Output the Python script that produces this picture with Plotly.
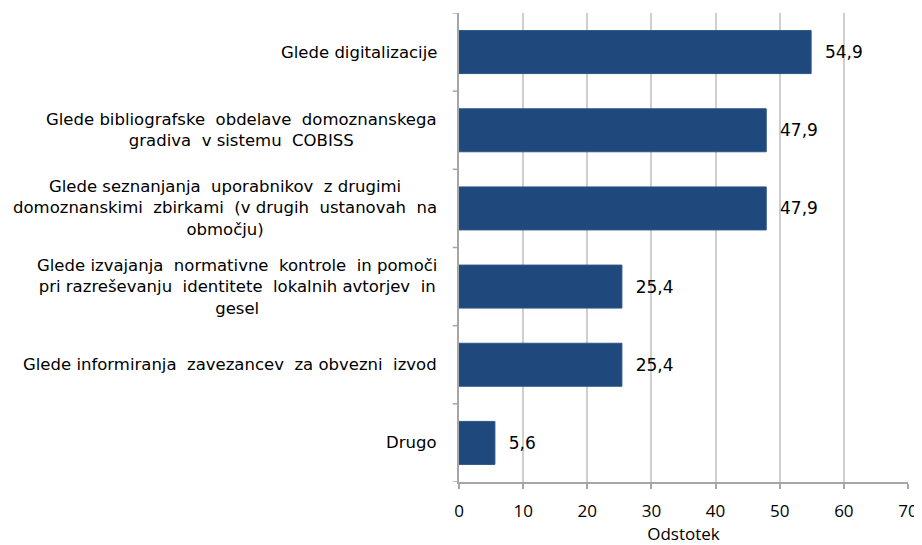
import plotly.graph_objects as go

categories = [
    "Glede digitalizacije",
    "Glede bibliografske  obdelave  domoznanskega<br>gradiva  v sistemu  COBISS",
    "Glede seznanjanja  uporabnikov  z drugimi<br>domoznanskimi  zbirkami  (v drugih  ustanovah  na<br>območju)",
    "Glede izvajanja  normativne  kontrole  in pomoči<br>pri razreševanju  identitete  lokalnih avtorjev  in<br>gesel",
    "Glede informiranja  zavezancev  za obvezni  izvod",
    "Drugo",
]
values = [54.9, 47.9, 47.9, 25.4, 25.4, 5.6]
value_labels = ["54,9", "47,9", "47,9", "25,4", "25,4", "5,6"]
x_ticks = [0, 10, 20, 30, 40, 50, 60, 70]

ids = list(range(len(categories)))

fig = go.Figure()
fig.add_trace(go.Bar(
    y=ids, x=values, orientation="h",
    marker=dict(color="#1F497D", line=dict(color="#2C5689", width=1)),
    width=0.55,
    text=value_labels, texttemplate="  %{text}", textposition="outside",
    textfont=dict(family="DejaVu Sans", size=17, color="#000000"),
    cliponaxis=False,
))

for i, c in zip(ids, categories):
    fig.add_annotation(
        x=0, xref="paper", y=i, yref="y", xanchor="right", xshift=-20,
        text=c, showarrow=False, align="center",
        font=dict(family="DejaVu Sans", size=16.5, color="#000000"),
    )

fig.update_layout(
    width=922, height=545,
    margin=dict(l=451, r=22, t=5, b=71),
    plot_bgcolor="white", paper_bgcolor="white",
    showlegend=False,
)
fig.update_xaxes(
    range=[0, 70], tickvals=x_ticks, ticktext=[str(t) for t in x_ticks],
    showgrid=True, gridcolor="#CFCFCF", gridwidth=1.5,
    showline=True, linecolor="#A6A6A6", linewidth=1.5,
    ticks="outside", ticklen=5, tickcolor="#A6A6A6", tickwidth=1.5,
    ticklabelstandoff=8,
    tickfont=dict(family="Open Sans", size=17, color="#000000"),
    title=dict(text="Odstotek", font=dict(family="Open Sans", size=17, color="#000000"), standoff=0),
    zeroline=False, automargin=False,
)
fig.update_yaxes(
    type="linear", range=[5.5, -0.5], tickvals=ids, showticklabels=False,
    showline=True, linecolor="#A6A6A6", linewidth=1.5,
    showgrid=False, zeroline=False, automargin=False,
)
fig.update_layout(shapes=[
    dict(type="line", xref="paper", yref="y", x0=-0.014, x1=0, y0=b, y1=b,
         line=dict(color="#A6A6A6", width=1.5))
    for b in [i - 0.5 for i in range(len(categories) + 1)]
])

fig.write_html("out.html")
